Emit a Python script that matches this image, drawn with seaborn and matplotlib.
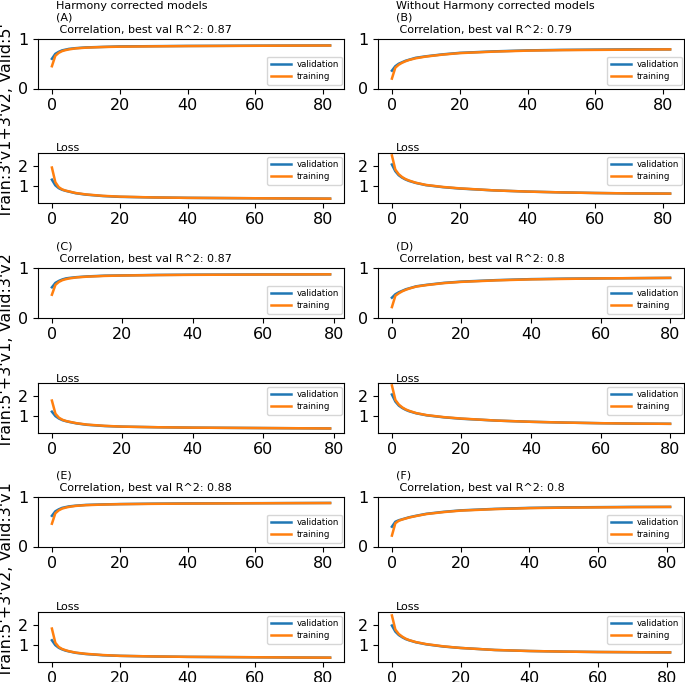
import numpy as np
import pandas as pd
import matplotlib
matplotlib.use("Agg")
import matplotlib.pyplot as plt
import seaborn as sns

early = [0, 1, 2, 3, 4, 5, 7, 10, 15, 20, 30, 40, 50, 60, 70]
epochs_A = early + [82]
epochs_B = early + [82]
epochs_C = early + [79]
epochs_D = early + [80]
epochs_E = early + [82]
epochs_F = early + [81]

# (A) Harmony, Train:3'v1+3'v2, Valid:5'
corr_val_A = [0.60, 0.70, 0.74, 0.77, 0.785, 0.80, 0.815, 0.83, 0.84, 0.85, 0.855, 0.86, 0.862, 0.865, 0.867, 0.87]
corr_train_A = [0.45, 0.66, 0.72, 0.755, 0.775, 0.79, 0.81, 0.825, 0.838, 0.845, 0.852, 0.857, 0.86, 0.863, 0.866, 0.868]
loss_val_A = [1.30, 1.02, 0.88, 0.80, 0.75, 0.71, 0.63, 0.56, 0.49, 0.45, 0.42, 0.40, 0.39, 0.38, 0.37, 0.36]
loss_train_A = [1.90, 1.18, 0.93, 0.82, 0.76, 0.72, 0.64, 0.57, 0.50, 0.46, 0.42, 0.40, 0.39, 0.38, 0.37, 0.36]

# (B) without Harmony, Train:3'v1+3'v2, Valid:5'
corr_val_B = [0.36, 0.45, 0.50, 0.53, 0.56, 0.58, 0.62, 0.65, 0.69, 0.72, 0.75, 0.77, 0.78, 0.785, 0.79, 0.79]
corr_train_B = [0.20, 0.42, 0.48, 0.52, 0.55, 0.575, 0.61, 0.645, 0.685, 0.715, 0.745, 0.765, 0.775, 0.78, 0.785, 0.79]
loss_val_B = [2.05, 1.72, 1.52, 1.40, 1.31, 1.24, 1.14, 1.03, 0.93, 0.86, 0.77, 0.71, 0.67, 0.64, 0.62, 0.61]
loss_train_B = [2.50, 1.80, 1.57, 1.43, 1.33, 1.26, 1.15, 1.04, 0.94, 0.87, 0.77, 0.71, 0.67, 0.64, 0.62, 0.61]

# (C) Harmony, Train:5'+3'v1, Valid:3'v2
corr_val_C = [0.61, 0.70, 0.74, 0.77, 0.79, 0.80, 0.815, 0.83, 0.845, 0.85, 0.86, 0.865, 0.867, 0.87, 0.87, 0.872]
corr_train_C = [0.46, 0.66, 0.72, 0.755, 0.775, 0.79, 0.81, 0.825, 0.84, 0.848, 0.857, 0.862, 0.865, 0.868, 0.87, 0.872]
loss_val_C = [1.20, 0.98, 0.86, 0.78, 0.73, 0.69, 0.62, 0.55, 0.49, 0.46, 0.43, 0.41, 0.40, 0.39, 0.38, 0.37]
loss_train_C = [1.75, 1.10, 0.90, 0.80, 0.74, 0.70, 0.63, 0.56, 0.50, 0.46, 0.43, 0.41, 0.40, 0.39, 0.38, 0.37]

# (D) without Harmony, Train:5'+3'v1, Valid:3'v2
corr_val_D = [0.40, 0.47, 0.51, 0.54, 0.57, 0.59, 0.63, 0.66, 0.70, 0.725, 0.755, 0.775, 0.785, 0.79, 0.795, 0.80]
corr_train_D = [0.21, 0.44, 0.49, 0.53, 0.56, 0.585, 0.625, 0.655, 0.695, 0.72, 0.75, 0.77, 0.78, 0.79, 0.795, 0.80]
loss_val_D = [2.05, 1.70, 1.50, 1.38, 1.29, 1.22, 1.12, 1.02, 0.92, 0.85, 0.76, 0.70, 0.66, 0.63, 0.61, 0.60]
loss_train_D = [2.50, 1.78, 1.55, 1.41, 1.31, 1.24, 1.13, 1.03, 0.93, 0.86, 0.76, 0.70, 0.66, 0.63, 0.61, 0.60]

# (E) Harmony, Train:5'+3'v2, Valid:3'v1
corr_val_E = [0.62, 0.71, 0.75, 0.78, 0.795, 0.81, 0.825, 0.84, 0.85, 0.857, 0.865, 0.87, 0.872, 0.875, 0.877, 0.88]
corr_train_E = [0.46, 0.67, 0.73, 0.765, 0.785, 0.80, 0.82, 0.835, 0.847, 0.855, 0.862, 0.867, 0.87, 0.873, 0.876, 0.878]
loss_val_E = [1.22, 0.98, 0.85, 0.77, 0.71, 0.67, 0.60, 0.54, 0.48, 0.45, 0.42, 0.40, 0.39, 0.38, 0.37, 0.36]
loss_train_E = [1.80, 1.10, 0.89, 0.79, 0.73, 0.68, 0.61, 0.55, 0.49, 0.45, 0.42, 0.40, 0.39, 0.38, 0.37, 0.36]

# (F) without Harmony, Train:5'+3'v2, Valid:3'v1
corr_val_F = [0.40, 0.50, 0.53, 0.55, 0.57, 0.59, 0.62, 0.66, 0.70, 0.73, 0.76, 0.78, 0.79, 0.795, 0.80, 0.80]
corr_train_F = [0.22, 0.47, 0.52, 0.545, 0.565, 0.585, 0.615, 0.655, 0.695, 0.725, 0.755, 0.775, 0.785, 0.79, 0.795, 0.80]
loss_val_F = [1.95, 1.65, 1.48, 1.37, 1.28, 1.22, 1.12, 1.02, 0.91, 0.84, 0.74, 0.69, 0.66, 0.64, 0.63, 0.62]
loss_train_F = [2.45, 1.75, 1.53, 1.40, 1.30, 1.23, 1.13, 1.03, 0.92, 0.84, 0.74, 0.69, 0.66, 0.64, 0.63, 0.62]

panel_letters = ["A", "B", "C", "D", "E", "F"]
best_r2 = ["0.87", "0.79", "0.87", "0.8", "0.88", "0.8"]
column_titles = ["Harmony corrected models", "Without Harmony corrected models"]
row_labels = ["Train:3'v1+3'v2, Valid:5'", "Train:5'+3'v1, Valid:3'v2", "Train:5'+3'v2, Valid:3'v1"]
series_names = ["validation", "training"]

panels = [
    (epochs_A, corr_val_A, corr_train_A, loss_val_A, loss_train_A),
    (epochs_B, corr_val_B, corr_train_B, loss_val_B, loss_train_B),
    (epochs_C, corr_val_C, corr_train_C, loss_val_C, loss_train_C),
    (epochs_D, corr_val_D, corr_train_D, loss_val_D, loss_train_D),
    (epochs_E, corr_val_E, corr_train_E, loss_val_E, loss_train_E),
    (epochs_F, corr_val_F, corr_train_F, loss_val_F, loss_train_F),
]

colors = ["#1f77b4", "#ff7f0e"]
W, H = 685, 682
fig = plt.figure(figsize=(W / 100, H / 100), dpi=100)

ax_left = [38, 378]
ax_w = 306
ax_h = 49.5
corr_tops = [39, 268, 497]
loss_tops = [153, 383, 612]


def make_ax(left_px, top_px):
    return fig.add_axes([left_px / W, 1 - (top_px + ax_h) / H, ax_w / W, ax_h / H])


def draw_lines(ax, epochs, val, train, legend_loc, anchor):
    df = pd.DataFrame({
        "epoch": list(epochs) * 2,
        "value": list(val) + list(train),
        "series": [series_names[0]] * len(epochs) + [series_names[1]] * len(epochs),
    })
    sns.lineplot(data=df, x="epoch", y="value", hue="series", hue_order=series_names,
                 palette=colors, linewidth=1.8, ax=ax, legend=False)
    ax.legend(ax.lines[:2], series_names, loc=legend_loc, bbox_to_anchor=anchor,
              borderaxespad=0, fontsize=6.2, labelspacing=0.35, borderpad=0.4,
              handlelength=2.4, handletextpad=0.6)
    ax.set_xlabel("")
    ax.set_ylabel("")
    ax.set_xticks([0, 20, 40, 60, 80])
    ax.tick_params(labelsize=11.5)


def label(ax, text, dy, dx=18):
    ax.annotate(text, xy=(0, 1), xycoords="axes fraction", xytext=(dx, dy),
                textcoords="offset pixels", ha="left", va="baseline", fontsize=8)


for i, (epochs, cv, ct, lv, lt) in enumerate(panels):
    row, col = i // 2, i % 2
    ax_c = make_ax(ax_left[col], corr_tops[row])
    draw_lines(ax_c, epochs, cv, ct, "lower right", (0.994, 0.08))
    ax_c.set_ylim(0, 1)
    ax_c.set_yticks([0, 1])
    label(ax_c, " Correlation, best val R^2: " + best_r2[i], 5.7)
    label(ax_c, "(" + panel_letters[i] + ")", 18.7)
    if row == 0:
        label(ax_c, column_titles[col], 30)

    ax_l = make_ax(ax_left[col], loss_tops[row])
    draw_lines(ax_l, epochs, lv, lt, "upper right", (0.994, 0.92))
    ax_l.set_ylim(0.17, 2.62)
    ax_l.set_yticks([1, 2])
    label(ax_l, "Loss", 1.5)

for row in range(3):
    center = (corr_tops[row] + loss_tops[row] + ax_h) / 2
    fig.text(-1 / W, 1 - center / H, row_labels[row], rotation=90,
             ha="left", va="center", fontsize=11.5)

fig.savefig("out.png", dpi=100)
